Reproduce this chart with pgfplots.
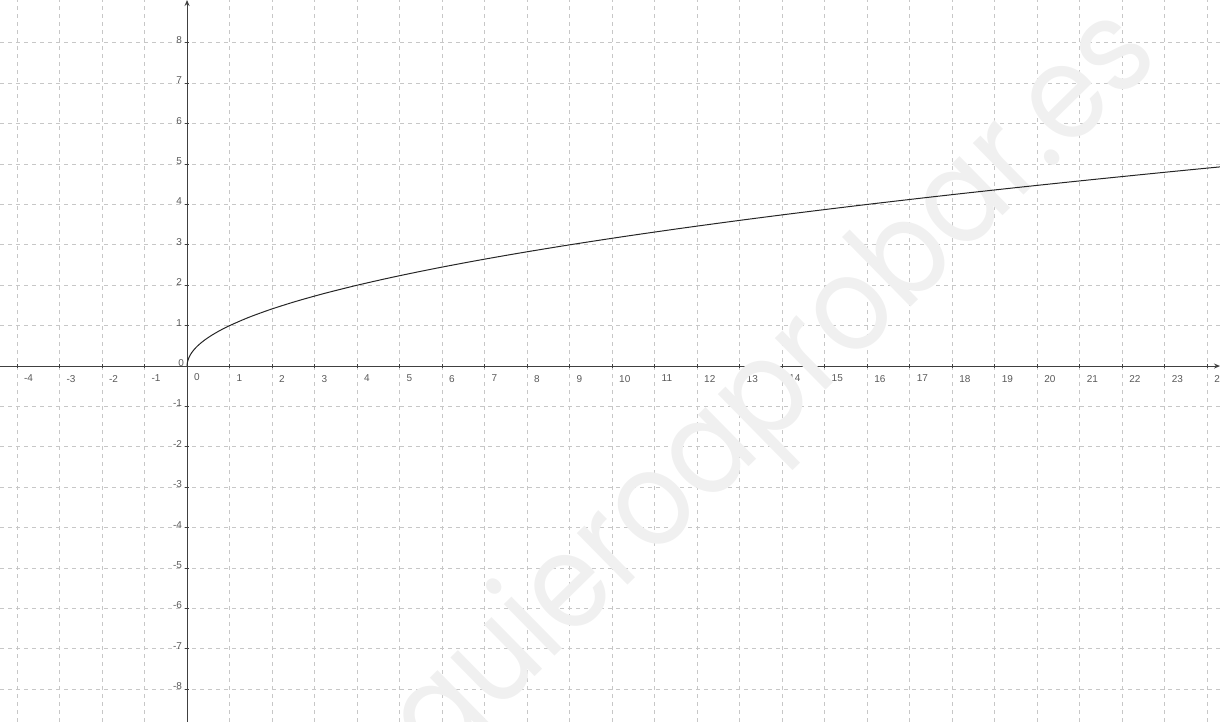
\documentclass[border=0pt]{standalone}
\usepackage{pgfplots}
\pgfplotsset{compat=1.18}
\usepackage{fontspec}
\setmainfont{Liberation Sans}
\newfontfamily\wmfont{Poppins}
\usetikzlibrary{arrows.meta}

\begin{document}
\begin{tikzpicture}
\begin{axis}[
    set layers,
    width=610pt, height=361pt, scale only axis,
    xmin=-4.4, xmax=24.3, ymin=-8.81, ymax=9.06,
    axis lines=middle,
    axis line style={draw=black!75, line width=0.5pt, -{Stealth[length=3pt,width=2.5pt]}},
    xtick={-4,...,24}, ytick={-8,...,8},
    grid=major,
    major grid style={draw=black!22, dash pattern=on 2pt off 2pt, line width=0.4pt},
    tick style={draw=black!75, line width=0.4pt},
    major tick length=2pt,
    tick label style={font=\fontsize{5}{6}\selectfont, text=black!65},
    xticklabel style={anchor=north west},
    yticklabel style={anchor=east, yshift=1.5pt, xshift=2pt},
    /pgf/number format/assume math mode=true,
]
% watermark
\node[on layer=axis background, rotate=44.5, xscale=0.89, text=black!6,
      font=\wmfont\fontsize{66}{66}\selectfont]
    at (axis cs:13.88,-0.64) {quieroaprobar.es};

% origin labels
\node[anchor=north west, font=\fontsize{5}{6}\selectfont, text=black!65]
    at (axis cs:0,0) {0};
\node[anchor=east, font=\fontsize{5}{6}\selectfont, text=black!65, yshift=1.5pt, xshift=2pt]
    at (axis cs:0,0) {0};

% y = sqrt(x)
\addplot[black!85, line width=0.5pt, smooth] coordinates {
    (0,0) (0.01,0.1) (0.04,0.2) (0.09,0.3) (0.16,0.4) (0.25,0.5)
    (0.36,0.6) (0.49,0.7) (0.64,0.8) (0.81,0.9) (1,1) (1.44,1.2)
    (1.96,1.4) (2.56,1.6) (3.24,1.8) (4,2) (4.84,2.2) (5.76,2.4)
    (6.76,2.6) (7.84,2.8) (9,3) (10.24,3.2) (11.56,3.4) (12.96,3.6)
    (14.44,3.8) (16,4) (17.64,4.2) (19.36,4.4) (21.16,4.6) (23.04,4.8)
    (24.3,4.9295)
};
\end{axis}
\pgfresetboundingbox
\useasboundingbox (current axis.south west) rectangle (current axis.north east);
\end{tikzpicture}
\end{document}
